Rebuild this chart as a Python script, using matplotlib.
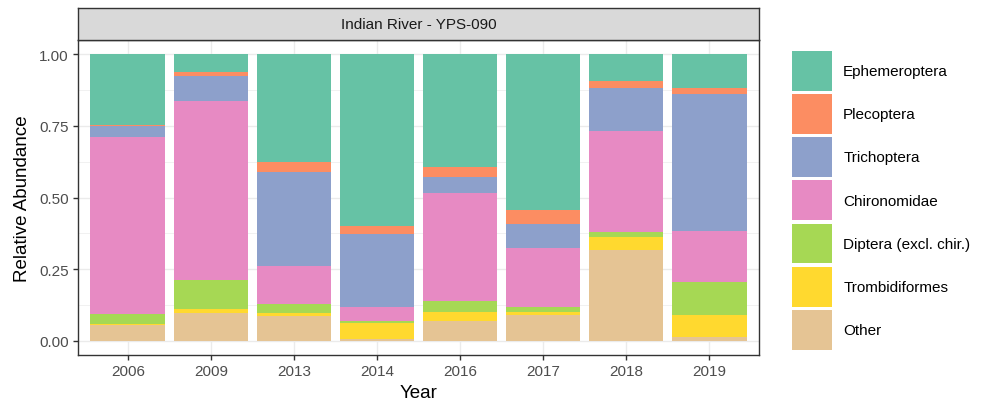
"""Stacked relative abundance bars for Indian River - YPS-090."""

import matplotlib.pyplot as plt
import numpy as np
from matplotlib.legend_handler import HandlerPatch
from matplotlib.patches import Patch

plt.rcParams["font.family"] = ["Liberation Sans", "DejaVu Sans"]

years = ["2006", "2009", "2013", "2014", "2016", "2017", "2018", "2019"]

# stacked from the bottom up
other = [0.055, 0.098, 0.087, 0.005, 0.070, 0.088, 0.316, 0.012]
trombidiformes = [0.003, 0.013, 0.008, 0.056, 0.029, 0.011, 0.047, 0.076]
diptera = [0.035, 0.100, 0.034, 0.009, 0.041, 0.018, 0.017, 0.117]
chironomidae = [0.620, 0.625, 0.131, 0.047, 0.375, 0.205, 0.351, 0.179]
trichoptera = [0.038, 0.088, 0.330, 0.257, 0.058, 0.087, 0.152, 0.478]
plecoptera = [0.002, 0.015, 0.034, 0.026, 0.032, 0.049, 0.023, 0.021]
ephemeroptera = [0.247, 0.061, 0.376, 0.600, 0.395, 0.542, 0.094, 0.117]

groups = [
    ("Other", other, "#e5c494"),
    ("Trombidiformes", trombidiformes, "#ffd92f"),
    ("Diptera (excl. chir.)", diptera, "#a6d854"),
    ("Chironomidae", chironomidae, "#e78ac3"),
    ("Trichoptera", trichoptera, "#8da0cb"),
    ("Plecoptera", plecoptera, "#fc8d62"),
    ("Ephemeroptera", ephemeroptera, "#66c2a5"),
]

W, H = 984, 402
fig = plt.figure(figsize=(W / 100, H / 100), dpi=100)

# panel and strip, placed in pixels
px_left, px_right = 78, 759
px_top, px_bottom = 41, 356
ax = fig.add_axes([px_left / W, 1 - px_bottom / H, (px_right - px_left) / W, (px_bottom - px_top) / H])
strip = fig.add_axes([px_left / W, 1 - px_top / H, (px_right - px_left) / W, (px_top - 9) / H])

x = np.arange(1, len(years) + 1)
bottom = np.zeros(len(years))
for name, values, color in groups:
    ax.bar(x, values, width=0.9, bottom=bottom, color=color, linewidth=0, zorder=2)
    bottom += np.array(values)

ax.set_xlim(0.4, len(years) + 0.6)
ax.set_ylim(-0.05, 1.05)
ax.set_xticks(x)
ax.set_xticklabels(years)
ax.set_yticks([0, 0.25, 0.5, 0.75, 1.0])
ax.set_yticklabels(["0.00", "0.25", "0.50", "0.75", "1.00"])
ax.set_yticks([0.125, 0.375, 0.625, 0.875], minor=True)
ax.grid(which="major", color="#ebebeb", linewidth=1.0, zorder=0)
ax.grid(which="minor", axis="y", color="#ebebeb", linewidth=0.5, zorder=0)
ax.set_axisbelow(True)
ax.tick_params(which="major", length=3.5, width=1, color="#333333", labelcolor="#4d4d4d",
               labelsize=11, pad=3)
ax.tick_params(which="minor", length=0)
for spine in ax.spines.values():
    spine.set_color("#333333")
    spine.set_linewidth(1.0)
ax.set_xlabel("Year", fontsize=13.5, color="black", labelpad=4)
ax.set_ylabel("Relative Abundance", fontsize=13.5, color="black", labelpad=6)

strip.set_facecolor("#d9d9d9")
strip.set_xticks([])
strip.set_yticks([])
for spine in strip.spines.values():
    spine.set_color("#333333")
    spine.set_linewidth(1.0)
strip.text(0.5, 0.5, "Indian River - YPS-090", ha="center", va="center",
           fontsize=11, color="#1a1a1a", transform=strip.transAxes)

handles = [Patch(facecolor=color, edgecolor="none", label=name) for name, _, color in reversed(groups)]
fig.legend(handles=handles, loc="upper left", bbox_to_anchor=(792 / W, 1 - 52 / H),
           frameon=False, fontsize=11, handlelength=2.6, handleheight=3.63,
           labelspacing=0.22, handletextpad=0.75, borderaxespad=0, borderpad=0,
           handler_map={Patch: HandlerPatch(xpad=0, ypad=0)})

fig.savefig("out.png", dpi=100)
